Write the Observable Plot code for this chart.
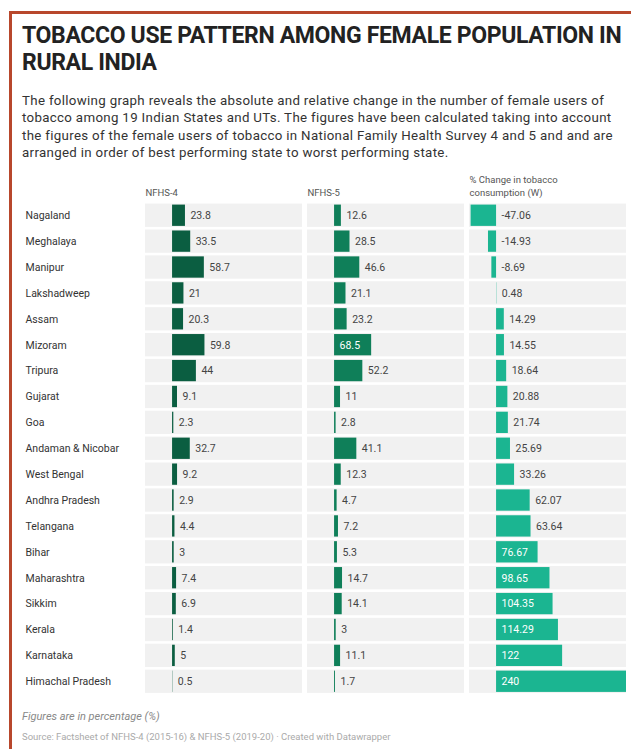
<!DOCTYPE html>
<html>
<head>
<meta charset="utf-8">
<script src="https://cdn.jsdelivr.net/npm/d3@7"></script>
<script src="https://cdn.jsdelivr.net/npm/@observablehq/plot@0.6"></script>
<style>
  html, body { margin: 0; padding: 0; background: #fff; overflow: hidden; }
  body { width: 631px; height: 749px; position: relative; font-family: Roboto, "Noto Sans", sans-serif; color: #333; }
  .frame { position: absolute; left: 9px; top: 11px; width: 650px; height: 760px; border-left: 3px solid #b8472c; border-top: 3px solid #b8472c; }
  .title { position: absolute; left: 22px; top: 22px; width: 610px; font-size: 23px; line-height: 27px; font-weight: 700; color: #222; letter-spacing: -0.35px; white-space: nowrap; }
  .sub { position: absolute; left: 22px; top: 92px; width: 610px; font-size: 13.3px; line-height: 17.4px; color: #333; letter-spacing: 0.32px; white-space: nowrap; }
  #chart { position: absolute; left: 0; top: 165px; }
  .note { position: absolute; left: 22px; top: 710px; font-size: 11px; font-style: italic; color: #888; }
  .source { position: absolute; left: 22px; top: 731px; font-size: 9.5px; color: #aaa; }
</style>
</head>
<body>
<div class="frame"></div>
<div class="title">TOBACCO USE PATTERN AMONG FEMALE POPULATION IN<br>RURAL INDIA</div>
<div class="sub">The following graph reveals the absolute and relative change in the number of female users of<br>tobacco among 19 Indian States and UTs. The figures have been calculated taking into account<br>the figures of the female users of tobacco in National Family Health Survey 4 and 5 and and are<br>arranged in order of best performing state to worst performing state.</div>
<div id="chart"></div>
<div class="note">Figures are in percentage (%)</div>
<div class="source">Source: Factsheet of NFHS-4 (2015-16) &amp; NFHS-5 (2019-20) · Created with Datawrapper</div>
<script>
const states = ["Nagaland","Meghalaya","Manipur","Lakshadweep","Assam","Mizoram","Tripura","Gujarat","Goa","Andaman & Nicobar","West Bengal","Andhra Pradesh","Telangana","Bihar","Maharashtra","Sikkim","Kerala","Karnataka","Himachal Pradesh"];
const nfhs4 = [23.8,33.5,58.7,21,20.3,59.8,44,9.1,2.3,32.7,9.2,2.9,4.4,3,7.4,6.9,1.4,5,0.5];
const nfhs5 = [12.6,28.5,46.6,21.1,23.2,68.5,52.2,11,2.8,41.1,12.3,4.7,7.2,5.3,14.7,14.1,3,11.1,1.7];
const change = [-47.06,-14.93,-8.69,0.48,14.29,14.55,18.64,20.88,21.74,25.69,33.26,62.07,63.64,76.67,98.65,104.35,114.29,122,240];
const columns = ["NFHS-4","NFHS-5","% Change in tobacco\nconsumption (W)"];
const columnColors = ["#0b5e41","#0f7f59","#1bb591"];
const xDomain = [-50, 240];
const insideThreshold = 65;

const series = [nfhs4, nfhs5, change];
const data = [];
states.forEach((s, i) => series.forEach((arr, c) => data.push({state: s, col: columns[c], value: arr[i]})));
const bgRows = [];
states.forEach(s => columns.forEach(c => bgRows.push({state: s, col: c, x1: xDomain[0], x2: xDomain[1]})));

const plot = Plot.plot({
  width: 631,
  height: 540,
  marginLeft: 145,
  marginRight: 4,
  marginTop: 38,
  marginBottom: 6,
  style: {fontFamily: "Roboto, sans-serif", fontSize: "11px", color: "#333", background: "transparent"},
  fx: {domain: columns, padding: 0.03, axis: null},
  x: {domain: xDomain, axis: null},
  y: {domain: states, padding: 0.1, axis: null, range: [36, 530.5], round: false},
  color: {domain: columns, range: columnColors},
  marks: [
    Plot.barX(bgRows, {fx: "col", y: "state", x1: "x1", x2: "x2", fill: "#f1f1f1"}),
    Plot.barX(data, {fx: "col", y: "state", x: "value", fill: "col", insetTop: 1, insetBottom: 1}),
    Plot.text(data.filter(d => !(d.value > insideThreshold)), {
      fx: "col", y: "state",
      x: d => d.value < 0 ? 0 : d.value,
      text: d => String(d.value),
      textAnchor: "start", dx: 5, fill: "#444", fontSize: 10.5
    }),
    Plot.text(data.filter(d => d.value > insideThreshold), {
      fx: "col", y: "state", x: 0,
      text: d => String(d.value),
      textAnchor: "start", dx: 5, fill: "#fff", fontSize: 10.5
    }),
    Plot.text(states, {
      fx: () => columns[0], y: d => d, text: d => d,
      frameAnchor: "left", textAnchor: "start", dx: -120, fill: "#333", fontSize: 10.5
    }),
    Plot.text(columns, {
      fx: d => d, text: d => d, frameAnchor: "top-left", lineAnchor: "bottom",
      textAnchor: "start", dy: -8, fill: "#555", fontSize: 9.5, lineHeight: 1.35
    })
  ]
});
document.getElementById("chart").appendChild(plot);
</script>
</body>
</html>
